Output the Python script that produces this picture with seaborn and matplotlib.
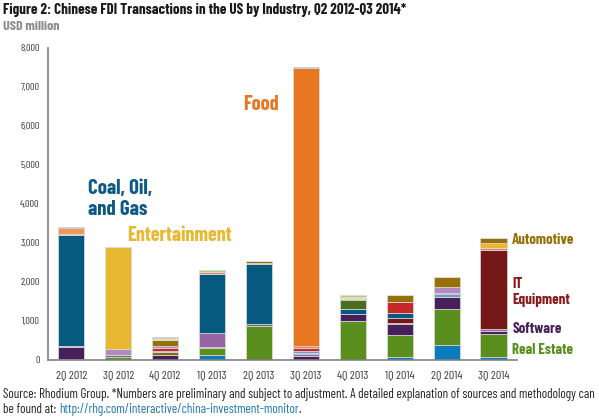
import matplotlib
matplotlib.use("Agg")
import matplotlib.pyplot as plt
import pandas as pd
import seaborn as sns
from matplotlib.ticker import FuncFormatter

# ---- data (USD million) ---------------------------------------------------
quarters = ["2Q 2012", "3Q 2012", "4Q 2012", "1Q 2013", "2Q 2013",
            "3Q 2013", "4Q 2013", "1Q 2014", "2Q 2014", "3Q 2014"]

# stacking order: bottom -> top
transport      = [0,    0,    0,   120, 0,    0,    0,    85,  375, 68]
real_estate    = [0,    85,   0,   196, 879,  0,    1006, 555, 930, 597]
business_svcs  = [30,   50,   0,   25,  43,   0,    0,    0,   0,   0]
software       = [300,  0,    128, 0,   0,    100,  171,  273, 316, 85]
electronics    = [35,   0,    0,   358, 0,    45,   0,    0,   0,   51]
materials      = [0,    0,    68,  0,   0,    0,    0,    43,  0,   0]
it_equipment   = [0,    0,    0,   0,   0,    0,    0,    111, 0,   2014]
coal_oil_gas   = [2850, 0,    0,   1501, 1545, 35,  119,  145, 0,   0]
financial      = [0,    0,    34,  0,   0,    45,   0,    0,   60,  0]
machinery      = [0,    0,    77,  0,   0,    80,   0,    282, 43,  0]
consumer       = [0,    135,  43,  0,   0,    0,    0,    0,   137, 0]
health         = [25,   0,    0,   51,  0,    40,   0,    0,   0,   60]
food           = [0,    0,    0,   0,   26,   7140, 0,    0,   0,   0]
chemicals      = [137,  0,    0,   0,   0,    0,    0,    0,   0,   0]
entertainment  = [0,    2630, 0,   0,   0,    0,    0,    0,   0,   128]
agriculture    = [0,    0,    0,   0,   0,    0,    239,  0,   0,   0]
automotive     = [0,    0,    154, 0,   34,   0,    34,   162, 256, 128]
hospitality    = [0,    0,    51,  0,   0,    0,    51,   0,   0,   0]
aviation       = [0,    0,    0,   51,  0,    0,    34,   0,   0,   0]
other          = [25,   0,    34,  0,   0,    30,   0,    0,   0,   0]

series = {
    "Transport": (transport, "#0b7bbd"),
    "Real Estate": (real_estate, "#5a8f1e"),
    "Business Services": (business_svcs, "#6e6e6e"),
    "Software": (software, "#47205a"),
    "Electronics": (electronics, "#9464a4"),
    "Basic Materials": (materials, "#8a6a10"),
    "IT Equipment": (it_equipment, "#761818"),
    "Coal, Oil, and Gas": (coal_oil_gas, "#065a80"),
    "Financial Services": (financial, "#6a9ec8"),
    "Industrial Machinery": (machinery, "#c8282a"),
    "Consumer Products": (consumer, "#b08ac0"),
    "Health": (health, "#e0826a"),
    "Food": (food, "#e87722"),
    "Chemicals": (chemicals, "#f09858"),
    "Entertainment": (entertainment, "#e8b830"),
    "Agriculture": (agriculture, "#4a6e20"),
    "Automotive": (automotive, "#98700a"),
    "Hospitality": (hospitality, "#f0e0a8"),
    "Aviation": (aviation, "#a8d080"),
    "Other": (other, "#7070b8"),
}

rows = []
for name, (vals, _) in series.items():
    for q, v in zip(quarters, vals):
        rows.append({"quarter": q, "industry": name, "value": v})
df = pd.DataFrame(rows)
palette = {name: col for name, (_, col) in series.items()}
order_bottom_up = list(series.keys())

# ---- plot -------------------------------------------------------------------
sns.set_style("white")
plt.rcParams["font.family"] = ["Barlow Condensed", "DejaVu Sans"]

fig = plt.figure(figsize=(5.99, 4.2), dpi=100)
ax = fig.add_axes([0.080, 0.143, 0.783, 0.743])
renderer = fig.canvas.get_renderer()


def fit(t, width_px):
    # scale a text's font size so it spans about width_px pixels
    w = t.get_window_extent(renderer).width
    t.set_fontsize(t.get_fontsize() * width_px / w)
    return t.get_fontsize()


# seaborn stacks the last hue level at the bottom
sns.histplot(data=df, x="quarter", weights="value", hue="industry",
             hue_order=order_bottom_up[::-1], palette=palette,
             multiple="stack", discrete=True, shrink=0.555,
             edgecolor="#dcdcdc", linewidth=0.5, alpha=1, legend=False, ax=ax)

ax.set_xlim(-0.5, 9.5)
ax.set_ylim(0, 8000)
ax.set_yticks(range(0, 8001, 1000))
ax.yaxis.set_major_formatter(FuncFormatter(lambda v, p: f"{int(v):,}"))
ax.set_xlabel("")
ax.set_ylabel("")
for s in ["top", "right"]:
    ax.spines[s].set_visible(False)
for s in ["left", "bottom"]:
    ax.spines[s].set_color("#808080")
    ax.spines[s].set_linewidth(1.2)

# tick label sizes from sample widths
probe = fig.text(0, 0, "8,000", fontsize=10)
ysize = fit(probe, 20)
probe.set_text("2Q 2012")
probe.set_fontsize(10)
xsize = fit(probe, 31)
probe.remove()
ax.tick_params(axis="y", length=0, labelsize=ysize, colors="#3a3a3a", pad=6)
ax.tick_params(axis="x", length=0, labelsize=xsize, colors="#3a3a3a", pad=7)

# ---- annotations ------------------------------------------------------------
t = ax.text(0.36, 4120, "Coal, Oil,\nand Gas", color="#0b5a86", fontsize=14,
            fontweight="bold", ha="left", va="center", linespacing=1.15)
fit(t, 64)
t = ax.text(1.19, 3180, "Entertainment", color="#e8b830", fontsize=14,
            fontweight="bold", ha="left", va="center")
fit(t, 105)
t = ax.text(3.66, 6560, "Food", color="#e87722", fontsize=14,
            fontweight="bold", ha="left", va="center")
fit(t, 36)

t = ax.text(9.40, 3077, "Automotive", color="#98700a", fontsize=10,
            fontweight="bold", ha="left", va="center", clip_on=False)
rsize = fit(t, 62)
ax.text(9.40, 1744, "IT\nEquipment", color="#8a1a1a", fontsize=rsize,
        fontweight="bold", ha="left", va="center", clip_on=False,
        linespacing=1.25)
ax.text(9.40, 795, "Software", color="#47205a", fontsize=rsize,
        fontweight="bold", ha="left", va="center", clip_on=False)
ax.text(9.40, 256, "Real Estate", color="#5a8f1e", fontsize=rsize,
        fontweight="bold", ha="left", va="center", clip_on=False)

# ---- titles and footer --------------------------------------------------------
t = fig.text(0.005, 0.976, "Figure 2: Chinese FDI Transactions in the US by Industry, Q2 2012-Q3 2014*",
             fontsize=12, fontweight="bold", color="#1a1a1a", ha="left", va="center")
fit(t, 405)
t = fig.text(0.005, 0.936, "USD million", fontsize=10, fontweight="bold",
             color="#8c8c8c", ha="left", va="center")
fit(t, 56)

t = fig.text(0.005, 0.060, "Source: Rhodium Group. *Numbers are preliminary and subject to adjustment. "
             "A detailed explanation of sources and methodology can",
             fontsize=8, color="#222222", ha="left", va="center")
fsize = fit(t, 592)
t = fig.text(0.005, 0.024, "be found at: ", fontsize=fsize, color="#222222",
             ha="left", va="center")
x1 = t.get_window_extent(renderer).x1 / fig.bbox.width
t2 = fig.text(x1, 0.024, "http://rhg.com/interactive/china-investment-monitor",
              fontsize=fsize, color="#1f77b4", ha="left", va="center")
x2 = t2.get_window_extent(renderer).x1 / fig.bbox.width
fig.text(x2, 0.024, ".", fontsize=fsize, color="#222222", ha="left", va="center")

fig.savefig("out.png", dpi=100)
